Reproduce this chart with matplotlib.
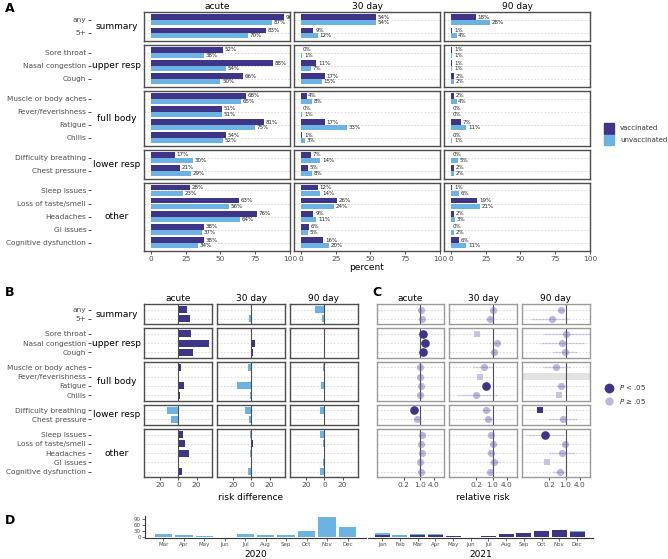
import numpy as np
import matplotlib.pyplot as plt
from matplotlib.patches import Rectangle

# ---- data ----
groups = ['summary', 'upper resp', 'full body', 'lower resp', 'other']
group_items = [
    ['any', '5+'],
    ['Sore throat', 'Nasal congestion', 'Cough'],
    ['Muscle or body aches', 'Fever/feverishness', 'Fatigue', 'Chills'],
    ['Difficulty breathing', 'Chest pressure'],
    ['Sleep issues', 'Loss of taste/smell', 'Headaches', 'GI issues', 'Cognitive dysfunction'],
]
periods = ['acute', '30 day', '90 day']

# percent with symptom (panel A)
vax_acute = [96, 83, 52, 88, 66, 68, 51, 81, 54, 17, 21, 28, 63, 76, 38, 38]
unvax_acute = [87, 70, 38, 54, 50, 65, 51, 75, 52, 30, 29, 23, 56, 64, 37, 34]
vax_30 = [54, 9, 0, 11, 17, 4, 0, 17, 1, 7, 5, 12, 26, 9, 6, 16]
unvax_30 = [54, 12, 1, 7, 15, 8, 1, 33, 3, 14, 8, 14, 24, 11, 5, 20]
vax_90 = [18, 1, 1, 1, 2, 2, 0, 7, 0, 0, 2, 1, 19, 2, 0, 6]
unvax_90 = [28, 4, 1, 1, 2, 4, 0, 11, 1, 5, 2, 6, 21, 3, 2, 11]

# relative risk (panel C), nan = not estimable
rr_acute = [1.10, 1.19, 1.37, 1.63, 1.32, 1.05, 1.00, 1.08, 1.04, 0.57, 0.72, 1.22, 1.13, 1.19, 1.03, 1.12]
lo_acute = [1.02, 1.05, 1.15, 1.40, 1.12, 0.95, 0.88, 0.98, 0.92, 0.42, 0.55, 0.98, 1.00, 1.05, 0.88, 0.95]
hi_acute = [1.18, 1.34, 1.62, 1.90, 1.55, 1.16, 1.14, 1.19, 1.18, 0.77, 0.94, 1.52, 1.28, 1.35, 1.21, 1.32]
sig_acute = [0, 0, 1, 1, 1, 0, 0, 0, 0, 1, 0, 0, 0, 0, 0, 0]
shape_acute = ['o'] * 16

rr_30 = [1.0, 0.75, 0.22, 1.57, 1.13, 0.45, 0.30, 0.52, 0.20, 0.50, 0.63, 0.86, 1.08, 0.82, 1.20, 0.80]
lo_30 = [0.88, 0.50, 0.22, 1.15, 0.88, 0.15, 0.30, 0.40, 0.03, 0.32, 0.42, 0.68, 0.90, 0.55, 0.72, 0.62]
hi_30 = [1.12, 1.10, 0.22, 2.10, 1.45, 1.05, 0.30, 0.68, 1.50, 0.85, 1.05, 1.10, 1.30, 1.30, 1.90, 1.05]
sig_30 = [0, 0, 0, 0, 0, 0, 0, 1, 0, 0, 0, 0, 0, 0, 0, 0]
shape_30 = ['o', 'o', 's', 'o', 'o', 'o', 's', 'o', 'o', 'o', 'o', 'o', 'o', 'o', 'o', 'o']

rr_90 = [0.64, 0.25, 1.0, 0.70, 0.95, 0.40, np.nan, 0.64, 0.50, 0.082, 0.75, 0.13, 0.92, 0.67, 0.16, 0.55]
lo_90 = [0.45, 0.033, 0.11, 0.09, 0.30, 0.11, np.nan, 0.40, 0.50, 0.082, 0.17, 0.02, 0.70, 0.20, 0.16, 0.30]
hi_90 = [0.90, 1.35, 11.0, 6.0, 3.0, 1.6, np.nan, 1.3, 0.50, 0.082, 3.0, 0.90, 1.20, 2.2, 0.16, 1.05]
sig_90 = [0, 0, 0, 0, 0, 0, 0, 0, 0, 1, 0, 1, 0, 0, 0, 0]
shape_90 = ['o', 'o', 'o', 'o', 'o', 'o', '', 'o', 's', 's', 'o', 'o', 'o', 'o', 's', 'o']

# monthly cases (panel D)
months_2020 = ['Mar', 'Apr', 'May', 'Jun', 'Jul', 'Aug', 'Sep', 'Oct', 'Nov', 'Dec']
unvax_2020 = [17, 10, 4, 1, 13, 8, 8, 28, 98, 50]
months_2021 = ['Jan', 'Feb', 'Mar', 'Apr', 'May', 'Jun', 'Jul', 'Aug', 'Sep', 'Oct', 'Nov', 'Dec']
vax_2021 = [9, 2, 8, 8, 5, 0, 5, 15, 18, 27, 32, 26]
unvax_2021 = [12, 6, 7, 9, 1, 1, 1, 2, 0, 0, 1, 2]

# ---- style ----
DARK = '#3e3586'
LIGHT = '#6cb3e4'
PALE = '#6a62b0'
GRID = '#d6d6d6'
FRAME = '#4d4d4d'
TXT = '#4d4d4d'

W, H = 668, 559
fig = plt.figure(figsize=(W / 100, H / 100), dpi=100)


def px_axes(x0, x1, y0, y1):
    return fig.add_axes([x0 / W, 1 - y1 / H, (x1 - x0) / W, (y1 - y0) / H])


def facet_rows(top, unit, gap):
    rows, y = [], top
    for items in group_items:
        h = unit * (len(items) + 0.2)
        rows.append((y, y + h))
        y += h + gap
    return rows


def split(values):
    out, k = [], 0
    for items in group_items:
        out.append(list(values[k:k + len(items)]))
        k += len(items)
    return out


def style_panel(ax, n, frame=FRAME):
    ax.set_ylim(n - 0.4, -0.6)
    for y in range(n):
        ax.axhline(y, color=GRID, lw=0.6, ls=(0, (2, 2)), zorder=0)
    for s in ax.spines.values():
        s.set_color(frame)
        s.set_linewidth(1.0)
    ax.set_yticks([])
    ax.tick_params(axis='x', length=0, labelbottom=False)


def bottom_ticks(ax, ticks, labels):
    ax.set_xticks(ticks)
    ax.set_xticklabels(labels)
    ax.tick_params(axis='x', length=2.5, width=0.6, color='#333333',
                   labelsize=5.3, labelcolor=TXT, pad=1, labelbottom=True)


def row_labels(rows):
    for (y0, y1), items, name in zip(rows, group_items, groups):
        la = px_axes(91, 91.5, y0, y1)
        la.set_ylim(len(items) - 0.4, -0.6)
        la.set_yticks(range(len(items)))
        la.set_yticklabels(items)
        la.tick_params(axis='y', length=2.5, width=0.6, color='#333333',
                       labelsize=5.3, labelcolor=TXT, pad=1)
        la.set_xticks([])
        for s in la.spines.values():
            s.set_visible(False)
        la.patch.set_visible(False)
        fig.text(117 / W, 1 - (y0 + y1) / 2 / H, name, ha='center', va='center', fontsize=6.5)


# ---- panel A ----
a_cols = [(144, 290), (294, 440), (444, 590)]
a_rows = facet_rows(12, 13.1, 4)
a_vax = [vax_acute, vax_30, vax_90]
a_unvax = [unvax_acute, unvax_30, unvax_90]

for c, ((x0, x1), pname) in enumerate(zip(a_cols, periods)):
    vg, ug = split(a_vax[c]), split(a_unvax[c])
    for r, ((y0, y1), items) in enumerate(zip(a_rows, group_items)):
        ax = px_axes(x0, x1, y0, y1)
        n = len(items)
        pos = np.arange(n)
        style_panel(ax, n)
        ax.set_xlim(-5, 100)
        ax.barh(pos - 0.21, vg[r], height=0.41, color=DARK, zorder=2)
        ax.barh(pos + 0.21, ug[r], height=0.41, color=LIGHT, zorder=2)
        for p, v, u in zip(pos, vg[r], ug[r]):
            ax.text(v + 1.2, p - 0.21, f'{v}%', va='center', ha='left', fontsize=4,
                    color='#222222', clip_on=True, zorder=3)
            ax.text(u + 1.2, p + 0.21, f'{u}%', va='center', ha='left', fontsize=4,
                    color='#222222', clip_on=True, zorder=3)
        if r == 0:
            ax.set_title(pname, fontsize=6.5, pad=2)
        if r == len(groups) - 1:
            bottom_ticks(ax, [0, 25, 50, 75, 100], ['0', '25', '50', '75', '100'])

row_labels(a_rows)
fig.text(367 / W, 1 - 268 / H, 'percent', ha='center', va='center', fontsize=6.5)

# legend A
fig.add_artist(Rectangle((604 / W, 1 - 133.5 / H), 10 / W, 10.5 / H, color=DARK,
                         transform=fig.transFigure))
fig.add_artist(Rectangle((604 / W, 1 - 145 / H), 10 / W, 10.5 / H, color=LIGHT,
                         transform=fig.transFigure))
fig.text(620 / W, 1 - 128.5 / H, 'vaccinated', fontsize=5, va='center', color='#333333')
fig.text(620 / W, 1 - 140 / H, 'unvaccinated', fontsize=5, va='center', color='#333333')

# ---- panel B: risk difference ----
b_cols = [(144, 212), (217, 285), (290, 358)]
bc_rows = facet_rows(304, 9.24, 4)

for c, ((x0, x1), pname) in enumerate(zip(b_cols, periods)):
    diff = [v - u for v, u in zip(a_vax[c], a_unvax[c])]
    dg = split(diff)
    for r, ((y0, y1), items) in enumerate(zip(bc_rows, group_items)):
        ax = px_axes(x0, x1, y0, y1)
        n = len(items)
        style_panel(ax, n)
        ax.set_xlim(-38, 37)
        cols = [DARK if d > 0 else LIGHT for d in dg[r]]
        ax.barh(np.arange(n), dg[r], height=0.75, color=cols, zorder=2)
        ax.axvline(0, color=FRAME, lw=0.8, zorder=3)
        if r == 0:
            ax.set_title(pname, fontsize=6.5, pad=2)
        if r == len(groups) - 1:
            bottom_ticks(ax, [-20, 0, 20], ['20', '0', '20'])

row_labels(bc_rows)
fig.text(251 / W, 1 - 497 / H, 'risk difference', ha='center', va='center', fontsize=6.5)

# ---- panel C: relative risk ----
c_cols = [(377, 444), (449, 517), (522, 590)]
c_rr = [rr_acute, rr_30, rr_90]
c_lo = [lo_acute, lo_30, lo_90]
c_hi = [hi_acute, hi_30, hi_90]
c_sig = [sig_acute, sig_30, sig_90]
c_shape = [shape_acute, shape_30, shape_90]

for c, ((x0, x1), pname) in enumerate(zip(c_cols, periods)):
    rrg, log, hig = split(c_rr[c]), split(c_lo[c]), split(c_hi[c])
    sgg, shg = split(c_sig[c]), split(c_shape[c])
    for r, ((y0, y1), items) in enumerate(zip(bc_rows, group_items)):
        ax = px_axes(x0, x1, y0, y1)
        n = len(items)
        style_panel(ax, n, frame='#9a9a9a')
        ax.set_xscale('log')
        ax.set_xlim(0.0135, 11.2)
        ax.minorticks_off()
        ax.axvline(1.0, color=FRAME, lw=0.8, zorder=1)
        for i in range(n):
            shp, sg = shg[r][i], sgg[r][i]
            if shp == '':
                ax.axhspan(i - 0.35, i + 0.35, color='#e3e3e3', lw=0, zorder=0.5)
                continue
            ax.plot([log[r][i], hig[r][i]], [i, i], color=PALE, alpha=0.25, lw=1.0,
                    solid_capstyle='butt', zorder=2)
            if shp == 'o':
                if sg:
                    ax.plot(rrg[r][i], i, 'o', ms=5.2, color=DARK, mec=DARK, zorder=4)
                else:
                    ax.plot(rrg[r][i], i, 'o', ms=5.2, color=PALE, alpha=0.45, mew=0, zorder=3)
            else:
                if sg:
                    ax.plot(rrg[r][i], i, 's', ms=4.2, color=DARK, mew=0, zorder=4)
                else:
                    ax.plot(rrg[r][i], i, 's', ms=4.2, color='#b9b6d6', alpha=0.8, mew=0, zorder=3)
        if r == 0:
            ax.set_title(pname, fontsize=6.5, pad=2)
        if r == len(groups) - 1:
            ax.set_xticks([0.2, 1.0, 4.0])
            ax.set_xticklabels(['0.2', '1.0', '4.0'])
            ax.tick_params(axis='x', length=2.5, width=0.6, color='#333333',
                           labelsize=5.3, labelcolor=TXT, pad=1, labelbottom=True)

fig.text(483 / W, 1 - 497 / H, 'relative risk', ha='center', va='center', fontsize=6.5)

# legend C
lg = px_axes(600, 668, 380, 410)
lg.set_xlim(0, 68)
lg.set_ylim(30, 0)
lg.axis('off')
lg.plot(9, 8, 'o', ms=6, color=DARK)
lg.plot(9, 21, 'o', ms=6, color=PALE, alpha=0.45, mew=0)
lg.text(19, 8, r'$P$ < .05', fontsize=5, va='center', color='#333333')
lg.text(19, 21, r'$P$ ≥ .05', fontsize=5, va='center', color='#333333')

# ---- panel D: cases by month ----
d20 = px_axes(145, 366, 516, 538)
d20.bar(range(len(months_2020)), unvax_2020, width=0.85, color=LIGHT)
d20.set_xlim(-0.9, 9.9)
d20.set_ylim(-4.9, 103)
d20.set_yticks([0, 30, 60, 90])
d20.set_xticks(range(len(months_2020)))
d20.set_xticklabels(months_2020)
d20.set_xlabel('2020', fontsize=6.5, labelpad=2)

d21 = px_axes(368, 593, 516, 538)
x21 = np.arange(len(months_2021))
d21.bar(x21, vax_2021, width=0.85, color=DARK)
d21.bar(x21, unvax_2021, bottom=vax_2021, width=0.85, color=LIGHT)
d21.set_xlim(-0.8, 11.9)
d21.set_ylim(-4.9, 103)
d21.set_yticks([])
d21.set_xticks(x21)
d21.set_xticklabels(months_2021)
d21.set_xlabel('2021', fontsize=6.5, labelpad=2)

for ax, left in [(d20, True), (d21, False)]:
    for side in ['top', 'right']:
        ax.spines[side].set_visible(False)
    ax.spines['left'].set_visible(left)
    for side in ['left', 'bottom']:
        ax.spines[side].set_color('#333333')
        ax.spines[side].set_linewidth(0.8)
    ax.tick_params(length=2, width=0.5, color='#333333', labelsize=4,
                   labelcolor=TXT, pad=1)
    ax.patch.set_visible(False)

# panel letters
for letter, x, y in [('A', 5, 8), ('B', 5, 293), ('C', 372, 293), ('D', 5, 520)]:
    fig.text(x / W, 1 - y / H, letter, fontsize=9, fontweight='bold', va='center', ha='left')

fig.savefig('out.png', dpi=100)
